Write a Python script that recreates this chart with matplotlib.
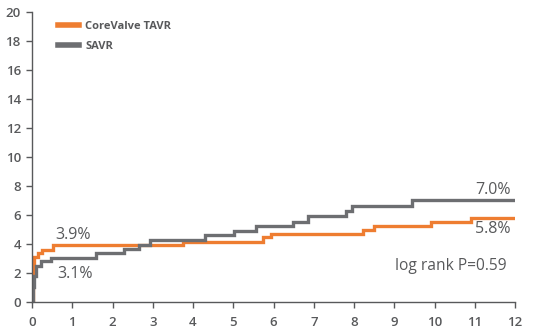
import matplotlib
matplotlib.use("Agg")
import matplotlib.pyplot as plt

# step times (years) and cumulative event rate (%)
tavr_t = [0.0, 0.02, 0.04, 0.14, 0.26, 0.51, 3.74, 5.74, 5.95, 8.22, 8.5, 9.92, 10.9, 12.0]
tavr_y = [0.0, 2.2, 3.1, 3.35, 3.6, 3.9, 4.15, 4.45, 4.7, 4.97, 5.24, 5.54, 5.8, 5.8]

savr_t = [0.0, 0.03, 0.06, 0.1, 0.22, 0.47, 1.59, 2.29, 2.67, 2.92, 4.3, 5.03, 5.57,
          6.48, 6.85, 7.8, 7.95, 9.43, 12.0]
savr_y = [0.0, 1.0, 1.8, 2.5, 2.8, 3.05, 3.4, 3.66, 3.93, 4.28, 4.62, 4.92, 5.24,
          5.54, 5.93, 6.28, 6.62, 7.0, 7.0]

x_ticks = list(range(0, 13))
y_ticks = list(range(0, 21, 2))

orange = "#ee7d31"
grey = "#6d6e71"
txt = "#58595b"

plt.rcParams['font.family'] = ['Open Sans', 'DejaVu Sans']

fig = plt.figure(figsize=(5.48, 3.33), dpi=100)
ax = fig.add_axes([0.0584, 0.0931, 0.8814, 0.8709])

ax.step(tavr_t, tavr_y, where="post", color=orange, lw=2.4, label="CoreValve TAVR",
        solid_joinstyle="miter")
ax.step(savr_t, savr_y, where="post", color=grey, lw=2.4, label="SAVR",
        solid_joinstyle="miter")

ax.set_xlim(0, 12)
ax.set_ylim(0, 20)
ax.set_xticks(x_ticks)
ax.set_yticks(y_ticks)
for s in ["top", "right"]:
    ax.spines[s].set_visible(False)
for s in ["left", "bottom"]:
    ax.spines[s].set_color(txt)
    ax.spines[s].set_linewidth(1.0)
ax.tick_params(colors=txt, labelsize=9.5, length=4, width=1.0)
ax.tick_params(axis="x", pad=6)
ax.tick_params(axis="y", pad=4)
for lab in ax.get_xticklabels() + ax.get_yticklabels():
    lab.set_fontweight("semibold")

ax.text(0.58, 4.6, "3.9%", color=txt, fontsize=11.5, ha="left", va="center")
ax.text(0.62, 1.9, "3.1%", color=txt, fontsize=11.5, ha="left", va="center")
ax.text(11.9, 7.7, "7.0%", color=txt, fontsize=11.5, ha="right", va="center")
ax.text(11.9, 5.0, "5.8%", color=txt, fontsize=11.5, ha="right", va="center")
ax.text(11.8, 2.45, "log rank P=0.59", color=txt, fontsize=11.2, ha="right", va="center")

leg = ax.legend(loc="upper left", bbox_to_anchor=(0.038, 0.995), frameon=False,
                prop={"size": 8, "weight": "bold"}, handlelength=1.9,
                handletextpad=0.55, labelspacing=0.75, borderaxespad=0.3)
for t in leg.get_texts():
    t.set_color(txt)
for h in leg.get_lines():
    h.set_linewidth(4)

fig.savefig("out.png", dpi=100)
